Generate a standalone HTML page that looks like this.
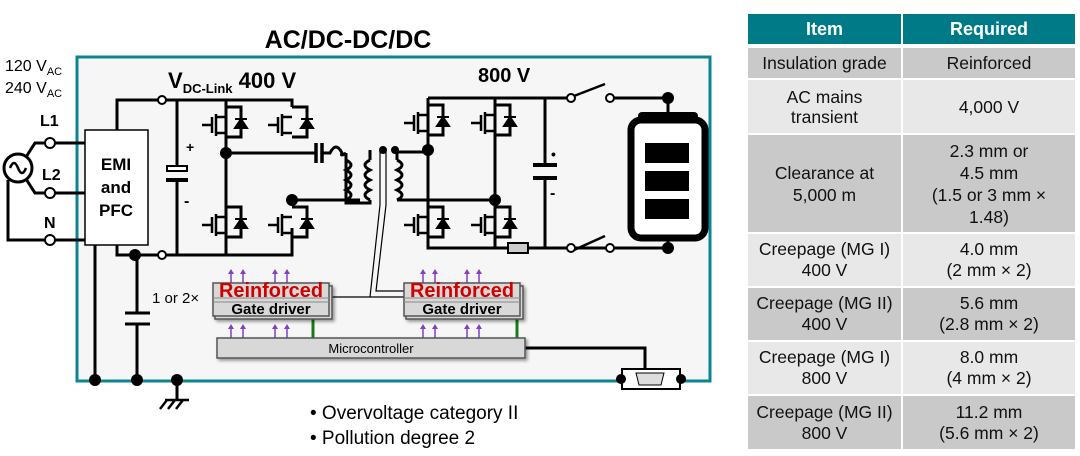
<!DOCTYPE html>
<html><head><meta charset="utf-8"><style>
body{margin:0;background:#fff;width:1080px;height:456px;overflow:hidden;font-family:"Liberation Sans",Arial,sans-serif}
svg{position:absolute;left:0;top:0}
</style></head><body>
<svg width="1080" height="456" viewBox="0 0 1080 456" font-family="Liberation Sans, Arial, sans-serif">
<defs>
<g id="fet" fill="none" stroke="#000" stroke-width="3">
<path d="M0,7 h15 v30 h-15"/>
<path d="M-24,25 h10 M-14,17 v16 M-10,14 v22 M-10,17 h10 M-10,33 h10" stroke-width="2.5"/>
<path d="M9,28 h12 l-6,-9 z M9,19 h12" fill="#000" stroke-width="2"/>
</g>
<g id="ar"><path d="M0,14 V3" stroke="#8040c0" stroke-width="1.5"/><path d="M-3,5 L0,0 L3,5 z" fill="#8040c0"/></g>
<filter id="sh"><feDropShadow dx="2" dy="2" stdDeviation="1.5" flood-opacity="0.4"/></filter>
</defs>
<rect x="77" y="57" width="633" height="324" fill="#f6f6f6" stroke="#0a8591" stroke-width="3"/>
<text x="348" y="48" font-size="25" font-weight="bold" text-anchor="middle">AC/DC-DC/DC</text>
<text x="5" y="71" font-size="16">120 V<tspan font-size="11" dy="4">AC</tspan></text>
<text x="5" y="93" font-size="16">240 V<tspan font-size="11" dy="4">AC</tspan></text>
<text x="40" y="126" font-size="16" font-weight="bold">L1</text>
<text x="42" y="180" font-size="16" font-weight="bold">L2</text>
<text x="44" y="228" font-size="16" font-weight="bold">N</text>
<text x="168" y="88" font-size="22" font-weight="bold">V<tspan font-size="13" dy="5">DC-Link</tspan><tspan dy="-5"> 400 V</tspan></text>
<text x="478" y="82" font-size="20" font-weight="bold">800 V</text>
<g fill="none" stroke="#000" stroke-width="3">
<circle cx="18" cy="168" r="14" fill="#fff"/>
<path d="M10,168 q4,-10 8,0 t8,0" stroke-width="2.5"/>
<path d="M26,157 L35,143 H85 M26,179 L35,193 H85 M8,180 V240 H85"/>
<rect x="85" y="130" width="63" height="115" fill="#fff" stroke-width="1.5"/>
<path d="M117,130 V100 H160 M117,245 V255 H160 M164,100 H292 V107 M164,255 H292 V228"/>
<path d="M95,245 V380 M137,255 V313 M137,324 V380 M177,380 V400"/>
<path d="M125,313 h25 M125,324 h25" stroke-width="3"/>
<path d="M165,400 h24 M167,400 l-7,9 M175,400 l-7,9 M183,400 l-7,9" stroke-width="2.5"/>
<path d="M177,100 V166 M177,182 V255"/>
<rect x="167" y="166" width="20" height="5" fill="#fff" stroke-width="2"/>
<path d="M166,180 h22" stroke-width="4"/>
<path d="M226,100 V255 M226,153 H316 M292,200 H360"/>
<path d="M316,143 v20 M322,143 v20" stroke-width="3.5"/>
<path d="M322,153 h8 q6,-12 12,0 q-2,4 4,0" />
<path d="M346,153 v50 H360"/>
<path d="M346,160 q10,5 0,10 q10,5 0,10 q10,5 0,10 q10,5 0,10" />
<path d="M370,160 q-10,5 0,10 q-10,5 0,10 q-10,5 0,10 q-10,5 0,10 M370,150 v10 M370,200 v3 H346" />
<path d="M397,160 q10,5 0,10 q10,5 0,10 q10,5 0,10 q10,5 0,10 M397,160 v-8 H428 M397,200 h8 V200 H495" />
<path d="M380,150 V205 L370,297 H404 M386,150 V205 L376,291 H404 M376,297 H330" stroke-width="1.2"/>
<path d="M428,98 V248 H620 M428,98 H570 M495,98 V248"/>
<path d="M545,98 V165 M545,178 V248"/>
<path d="M533,165 h24 M533,178 h24" stroke-width="4"/>
<path d="M574,96 L605,84 M574,250 L605,236" stroke-width="2.5"/>
<path d="M614,98 H668 V112 M614,248 H668 V238"/>
<path d="M525,348 H645 V372"/>
</g>
<text x="116" y="170" font-size="17" font-weight="bold" text-anchor="middle">EMI</text>
<text x="116" y="193" font-size="17" font-weight="bold" text-anchor="middle">and</text>
<text x="116" y="216" font-size="17" font-weight="bold" text-anchor="middle">PFC</text>
<rect x="508" y="243" width="20" height="10" fill="#ccc" stroke="#000" stroke-width="2"/>
<g fill="#fff" stroke="#000" stroke-width="2">
<circle cx="162" cy="100" r="4"/><circle cx="162" cy="255" r="4"/>
<circle cx="50" cy="143" r="5"/><circle cx="50" cy="193" r="5"/><circle cx="50" cy="240" r="5"/>
<circle cx="571" cy="98" r="4"/><circle cx="610" cy="98" r="4"/>
<circle cx="571" cy="248" r="4"/><circle cx="610" cy="248" r="4"/>
<circle cx="383" cy="150" r="3" fill="#000"/><circle cx="395" cy="150" r="3" fill="#000"/>
</g>
<g fill="#000">
<circle cx="226" cy="153" r="6"/><circle cx="292" cy="200" r="6"/>
<circle cx="428" cy="150" r="6"/><circle cx="495" cy="200" r="6"/>
<circle cx="135" cy="255" r="6"/>
<circle cx="95" cy="380" r="6"/><circle cx="137" cy="380" r="6"/><circle cx="177" cy="380" r="6"/>
<circle cx="668" cy="98" r="6"/><circle cx="668" cy="248" r="6"/>
</g>
<text x="186" y="152" font-size="14" font-weight="bold">+</text>
<text x="184" y="206" font-size="16" font-weight="bold">-</text>
<text x="551" y="159" font-size="14" font-weight="bold">•</text>
<text x="550" y="198" font-size="16" font-weight="bold">-</text>
<use href="#fet" x="226" y="100"/><use href="#fet" x="292" y="100"/>
<use href="#fet" x="226" y="200"/><use href="#fet" x="292" y="200"/>
<use href="#fet" x="428" y="98"/><use href="#fet" x="495" y="98"/>
<use href="#fet" x="428" y="200"/><use href="#fet" x="495" y="200"/>
<rect x="638" y="112" width="60" height="10" rx="4" fill="#000"/>
<rect x="631" y="120" width="74" height="118" rx="10" fill="#fff" stroke="#000" stroke-width="7"/>
<rect x="645" y="143" width="44" height="20" fill="#000"/>
<rect x="645" y="171" width="44" height="20" fill="#000"/>
<rect x="645" y="199" width="44" height="20" fill="#000"/>
<use href="#ar" x="231" y="269"/><use href="#ar" x="243" y="269"/><use href="#ar" x="275" y="269"/><use href="#ar" x="287" y="269"/>
<use href="#ar" x="231" y="324"/><use href="#ar" x="243" y="324"/><use href="#ar" x="275" y="324"/><use href="#ar" x="287" y="324"/>
<use href="#ar" x="423" y="269"/><use href="#ar" x="435" y="269"/><use href="#ar" x="467" y="269"/><use href="#ar" x="479" y="269"/>
<use href="#ar" x="423" y="324"/><use href="#ar" x="435" y="324"/><use href="#ar" x="467" y="324"/><use href="#ar" x="479" y="324"/>
<path d="M313,318 v20 M517,318 v20" stroke="#1a7a1a" stroke-width="3"/>
<g filter="url(#sh)" stroke="#555" stroke-width="1.5">
<rect x="215" y="286" width="117" height="33" fill="#d8d8d8"/>
<rect x="213" y="283" width="116" height="33" fill="#d8d8d8"/>
<rect x="406" y="286" width="117" height="33" fill="#d8d8d8"/>
<rect x="404" y="283" width="116" height="33" fill="#d8d8d8"/>
<rect x="217" y="338" width="308" height="20" fill="#d8d8d8"/>
</g>
<path d="M213,298 H329 M213,302 H329 M404,298 H520 M404,302 H520" stroke="#888" stroke-width="1"/>
<text x="271" y="297" font-size="20" font-weight="bold" fill="#d00000" text-anchor="middle" textLength="104" lengthAdjust="spacingAndGlyphs">Reinforced</text>
<text x="462" y="297" font-size="20" font-weight="bold" fill="#d00000" text-anchor="middle" textLength="104" lengthAdjust="spacingAndGlyphs">Reinforced</text>
<text x="271" y="314" font-size="15" font-weight="bold" text-anchor="middle">Gate driver</text>
<text x="462" y="314" font-size="15" font-weight="bold" text-anchor="middle">Gate driver</text>
<text x="371" y="353" font-size="13" text-anchor="middle">Microcontroller</text>
<text x="152" y="303" font-size="15">1 or 2×</text>
<rect x="622" y="369" width="58" height="20" fill="#fff" stroke="#000" stroke-width="2"/>
<circle cx="621" cy="379" r="5" fill="#000"/><circle cx="681" cy="379" r="5" fill="#000"/>
<path d="M636,373 h28 l-3,12 h-22 z" fill="#ddd" stroke="#000" stroke-width="1"/>
<text x="310" y="419" font-size="19">• Overvoltage category II</text>
<text x="310" y="444" font-size="19">• Pollution degree 2</text>
</svg>
<div style="position:absolute;left:748px;top:14px;width:327px;font-size:17.5px;color:#111;text-align:center;line-height:20px">
<div style="display:flex;height:30px;margin-bottom:4px"><div style="width:153px;background:#007a87;color:#fff;font-weight:bold;font-size:18px;line-height:30px;margin-right:2px">Item</div><div style="flex:1;background:#007a87;color:#fff;font-weight:bold;font-size:18px;line-height:30px">Required</div></div>
<div style="display:flex;height:30px;margin-bottom:2px;background:#c9c9c9"><div style="width:153px;line-height:30px;border-right:2px solid #fff">Insulation grade</div><div style="flex:1;line-height:30px">Reinforced</div></div>
<div style="display:flex;height:53px;margin-bottom:2px;background:#e8e8e8;align-items:center"><div style="width:153px;border-right:2px solid #fff;height:53px;display:flex;align-items:center;justify-content:center">AC mains<br>transient</div><div style="flex:1">4,000 V</div></div>
<div style="display:flex;height:97px;margin-bottom:2px;background:#c9c9c9;align-items:center"><div style="width:153px;border-right:2px solid #fff;height:97px;display:flex;align-items:center;justify-content:center;line-height:22px">Clearance at<br>5,000 m</div><div style="flex:1;line-height:22px">2.3 mm or<br>4.5 mm<br>(1.5 or 3 mm ×<br>1.48)</div></div>
<div style="display:flex;height:52px;margin-bottom:2px;background:#e8e8e8;align-items:center;line-height:21px"><div style="width:153px;border-right:2px solid #fff;height:52px;display:flex;align-items:center;justify-content:center">Creepage (MG I)<br>400 V</div><div style="flex:1">4.0 mm<br>(2 mm × 2)</div></div>
<div style="display:flex;height:52px;margin-bottom:2px;background:#c9c9c9;align-items:center;line-height:21px"><div style="width:153px;border-right:2px solid #fff;height:52px;display:flex;align-items:center;justify-content:center">Creepage (MG II)<br>400 V</div><div style="flex:1">5.6 mm<br>(2.8 mm × 2)</div></div>
<div style="display:flex;height:52px;margin-bottom:2px;background:#e8e8e8;align-items:center;line-height:21px"><div style="width:153px;border-right:2px solid #fff;height:52px;display:flex;align-items:center;justify-content:center">Creepage (MG I)<br>800 V</div><div style="flex:1">8.0 mm<br>(4 mm × 2)</div></div>
<div style="display:flex;height:53px;background:#c9c9c9;align-items:center;line-height:21px"><div style="width:153px;border-right:2px solid #fff;height:53px;display:flex;align-items:center;justify-content:center">Creepage (MG II)<br>800 V</div><div style="flex:1">11.2 mm<br>(5.6 mm × 2)</div></div>
</div>
</body></html>
